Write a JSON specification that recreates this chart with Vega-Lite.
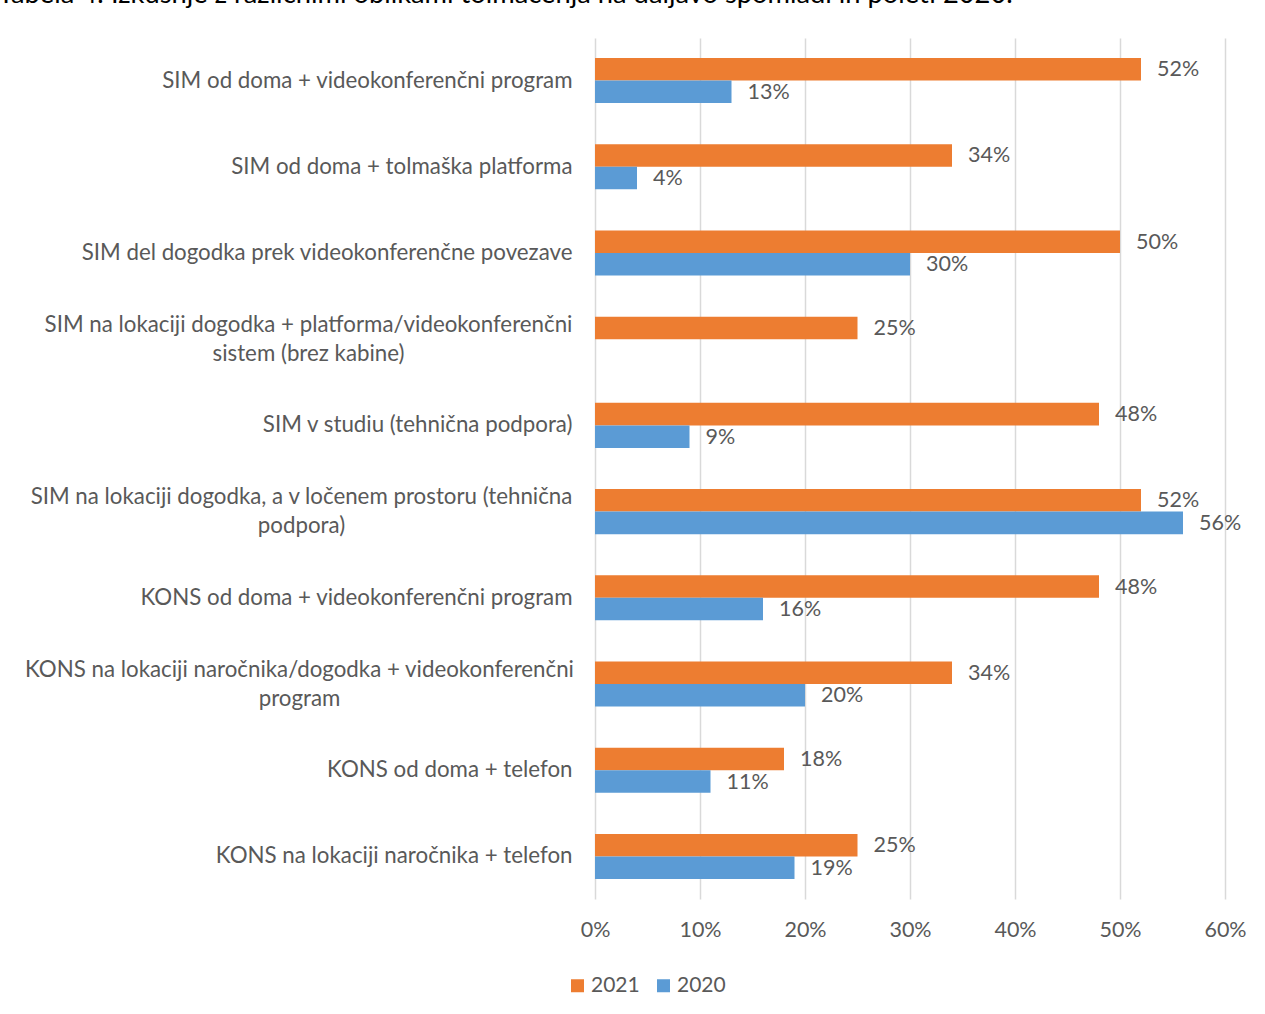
{
  "$schema": "https://vega.github.io/schema/vega-lite/v6.json",
  "autosize": "none",
  "width": 630,
  "height": 861,
  "padding": {"left": 595, "top": 38, "right": 40, "bottom": 115},
  "background": "white",
  "title": {
    "text": "Tabela 4: Izkušnje z različnimi oblikami tolmačenja na daljavo spomladi in poleti 2020.",
    "anchor": "start",
    "frame": "group",
    "orient": "top",
    "baseline": "bottom",
    "offset": 2,
    "dx": -597,
    "font": "Lato",
    "fontSize": 27.3,
    "fontWeight": "normal",
    "color": "#000000"
  },
  "config": {
    "view": {"stroke": null},
    "font": "Lato"
  },
  "data": {
    "values": [
      {"cat": "SIM od doma + videokonferenčni program", "year": "2021", "value": 0.52},
      {"cat": "SIM od doma + tolmaška platforma", "year": "2021", "value": 0.34},
      {"cat": "SIM del dogodka prek videokonferenčne povezave", "year": "2021", "value": 0.50},
      {"cat": "SIM na lokaciji dogodka + platforma/videokonferenčni sistem (brez kabine)", "year": "2021", "value": 0.25},
      {"cat": "SIM v studiu (tehnična podpora)", "year": "2021", "value": 0.48},
      {"cat": "SIM na lokaciji dogodka, a v ločenem prostoru (tehnična podpora)", "year": "2021", "value": 0.52},
      {"cat": "KONS od doma + videokonferenčni program", "year": "2021", "value": 0.48},
      {"cat": "KONS na lokaciji naročnika/dogodka + videokonferenčni program", "year": "2021", "value": 0.34},
      {"cat": "KONS od doma + telefon", "year": "2021", "value": 0.18},
      {"cat": "KONS na lokaciji naročnika + telefon", "year": "2021", "value": 0.25},
      {"cat": "SIM od doma + videokonferenčni program", "year": "2020", "value": 0.13},
      {"cat": "SIM od doma + tolmaška platforma", "year": "2020", "value": 0.04},
      {"cat": "SIM del dogodka prek videokonferenčne povezave", "year": "2020", "value": 0.30},
      {"cat": "SIM v studiu (tehnična podpora)", "year": "2020", "value": 0.09},
      {"cat": "SIM na lokaciji dogodka, a v ločenem prostoru (tehnična podpora)", "year": "2020", "value": 0.56},
      {"cat": "KONS od doma + videokonferenčni program", "year": "2020", "value": 0.16},
      {"cat": "KONS na lokaciji naročnika/dogodka + videokonferenčni program", "year": "2020", "value": 0.20},
      {"cat": "KONS od doma + telefon", "year": "2020", "value": 0.11},
      {"cat": "KONS na lokaciji naročnika + telefon", "year": "2020", "value": 0.19}
    ]
  },
  "encoding": {
    "y": {
      "field": "cat",
      "type": "nominal",
      "sort": null,
      "scale": {"paddingInner": 0.477, "paddingOuter": 0.232},
      "axis": {
        "title": null,
        "domain": false,
        "ticks": false,
        "labelPadding": {"condition": [
          {"test": "datum.value == 'SIM na lokaciji dogodka + platforma/videokonferenčni sistem (brez kabine)'", "value": 287},
          {"test": "datum.value == 'SIM na lokaciji dogodka, a v ločenem prostoru (tehnična podpora)'", "value": 294},
          {"test": "datum.value == 'KONS na lokaciji naročnika/dogodka + videokonferenčni program'", "value": 296}
        ], "value": 23},
        "labelAlign": {"condition": {"test": "length(datum.value) > 55", "value": "center"}, "value": "right"},
        "labelOffset": {"condition": {"test": "length(datum.value) > 55", "value": -14.5}, "value": 0},
        "labelFont": "Lato",
        "labelFontSize": 22.3,
        "labelColor": "#595959",
        "labelLimit": 0,
        "labelLineHeight": 29,
        "labelExpr": "datum.value == 'SIM na lokaciji dogodka + platforma/videokonferenčni sistem (brez kabine)' ? ['SIM na lokaciji dogodka + platforma/videokonferenčni', 'sistem (brez kabine)'] : datum.value == 'SIM na lokaciji dogodka, a v ločenem prostoru (tehnična podpora)' ? ['SIM na lokaciji dogodka, a v ločenem prostoru (tehnična', 'podpora)'] : datum.value == 'KONS na lokaciji naročnika/dogodka + videokonferenčni program' ? ['KONS na lokaciji naročnika/dogodka + videokonferenčni', 'program'] : datum.label"
      }
    },
    "yOffset": {"field": "year", "type": "nominal", "sort": ["2021", "2020"]},
    "x": {
      "field": "value",
      "type": "quantitative",
      "scale": {"domain": [0, 0.6], "nice": false},
      "axis": {
        "title": null,
        "format": ".0%",
        "values": [0, 0.1, 0.2, 0.3, 0.4, 0.5, 0.6],
        "domain": false,
        "ticks": false,
        "grid": true,
        "gridColor": "#d9d9d9",
        "gridWidth": 1.5,
        "labelPadding": 20,
        "labelFont": "Lato",
        "labelFontSize": 21.5,
        "labelColor": "#595959",
        "labelFlush": false
      }
    }
  },
  "layer": [
    {
      "mark": {"type": "bar"},
      "encoding": {
        "color": {
          "field": "year",
          "type": "nominal",
          "scale": {"domain": ["2021", "2020"], "range": ["#ED7D31", "#5B9BD5"]},
          "legend": {
            "title": null,
            "orient": "none",
            "direction": "horizontal",
            "legendX": -28,
            "legendY": 937,
            "padding": 0,
            "symbolType": "square",
            "symbolSize": 169,
            "symbolStrokeWidth": 0,
            "labelFont": "Lato",
            "labelFontSize": 21,
            "labelColor": "#595959",
            "labelOffset": 3,
            "columnPadding": 13
          }
        }
      }
    },
    {
      "mark": {
        "type": "text",
        "align": "left",
        "baseline": "middle",
        "dx": 16,
        "dy": 1,
        "font": "Lato",
        "fontSize": 21.5,
        "color": "#595959"
      },
      "encoding": {
        "text": {"field": "value", "type": "quantitative", "format": ".0%"}
      }
    }
  ]
}
